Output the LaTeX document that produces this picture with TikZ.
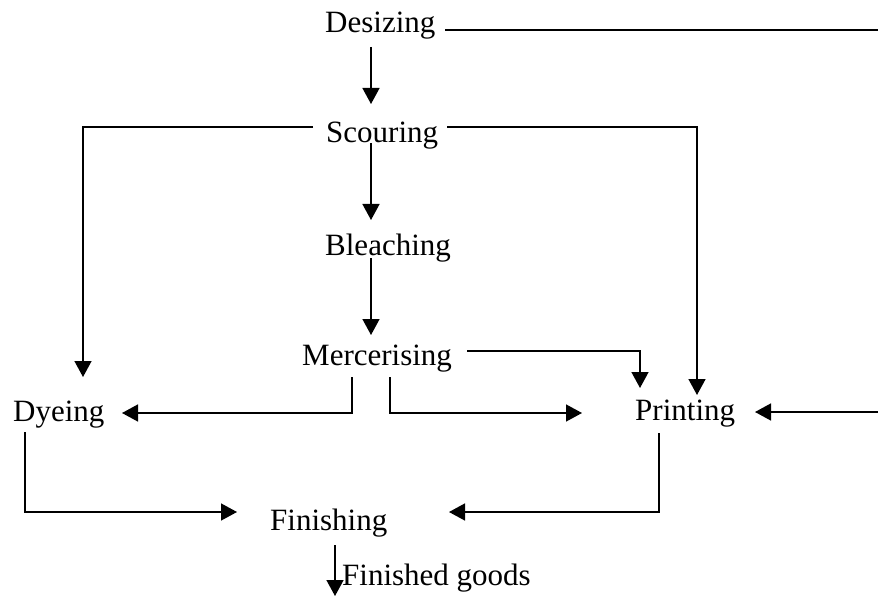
\documentclass[tikz,border=0pt]{standalone}
\usepackage{fontspec}
\setmainfont{Liberation Serif}
\usetikzlibrary{arrows.meta}
\begin{document}
\begin{tikzpicture}[x=1pt,y=-1pt,
  lbl/.style={inner sep=0pt,anchor=base west,font=\fontsize{31}{36}\selectfont},
  conn/.style={line width=1.5pt},
  arr/.style={line width=1.5pt,-{Triangle[length=16pt,width=17pt]}}]
\useasboundingbox (0,0) rectangle (878,596);
% nodes
\node[lbl] (desz) at (325,33) {Desizing};
\node[lbl] (scour) at (326,143) {Scouring};
\node[lbl] (bleach) at (325,255) {Bleaching};
\node[lbl] (merc) at (302,365) {Mercerising};
\node[lbl] (dye) at (13,421) {Dyeing};
\node[lbl] (print) at (635,420) {Printing};
\node[lbl] (finish) at (270,530) {Finishing};
\node[lbl] (goods) at (342,585) {Finished goods};
% coordinates
\coordinate (dzR) at (445,30);
\coordinate (dzE) at (878,30);
\coordinate (dzB) at (371,47);
\coordinate (scT) at (371,104);
\coordinate (scL) at (313,127);
\coordinate (scR) at (447,127);
\coordinate (scB) at (371,143);
\coordinate (blT) at (371,220);
\coordinate (blB) at (371,258);
\coordinate (meT) at (371,335);
\coordinate (dyT) at (83,377);
\coordinate (prT1) at (697,395);
\coordinate (prT2) at (640,388);
\coordinate (meR) at (467,351);
\coordinate (meB1) at (352,377);
\coordinate (meB2) at (390,377);
\coordinate (dyR) at (122,413);
\coordinate (midR) at (582,413);
\coordinate (prE) at (878,412);
\coordinate (prR) at (755,412);
\coordinate (dyB) at (25,432);
\coordinate (fiL) at (237,512);
\coordinate (prB) at (659,433);
\coordinate (fiR) at (449,512);
\coordinate (fiB) at (335,545);
\coordinate (gdE) at (335,596);
% connectors
\draw[conn] (dzR) -- (dzE);
\draw[arr] (dzB) -- (scT);
\draw[arr] (scL) -| (dyT);
\draw[arr] (scR) -| (prT1);
\draw[arr] (scB) -- (blT);
\draw[arr] (blB) -- (meT);
\draw[arr] (meR) -| (prT2);
\draw[arr] (meB1) |- (dyR);
\draw[arr] (meB2) |- (midR);
\draw[arr] (prE) -- (prR);
\draw[arr] (dyB) |- (fiL);
\draw[arr] (prB) |- (fiR);
\draw[arr] (fiB) -- (gdE);
\end{tikzpicture}
\end{document}
